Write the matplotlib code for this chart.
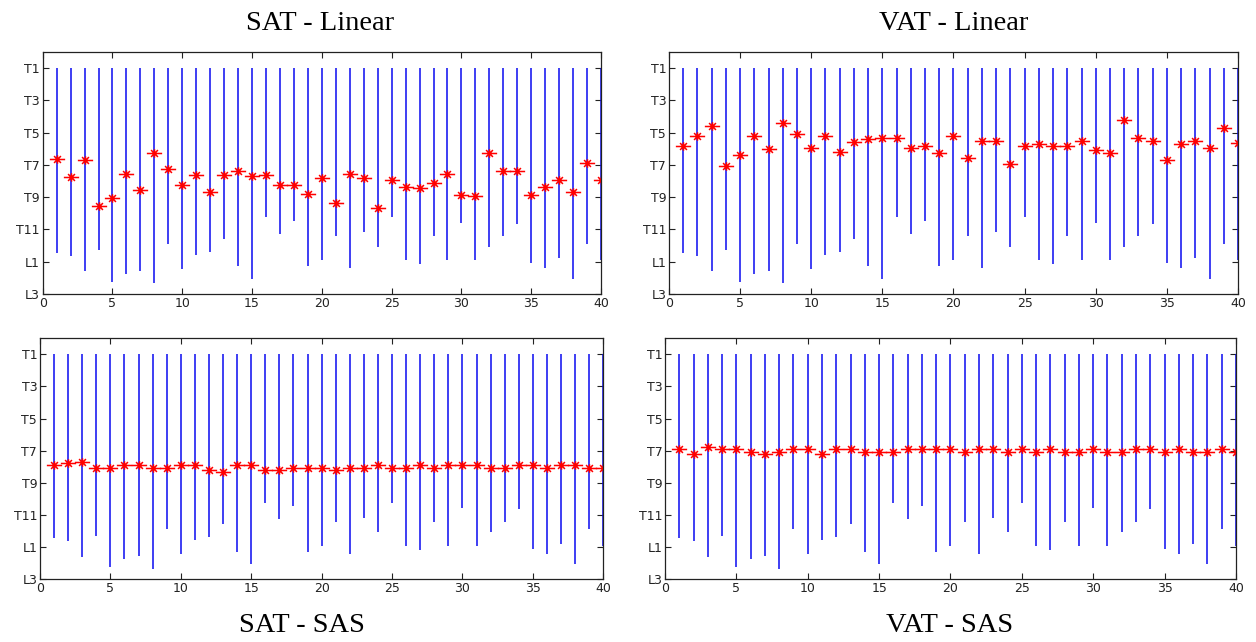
import numpy as np
from matplotlib import pyplot as plt
from matplotlib.path import Path

# level scale: T1..T12 -> 1..12, L1 -> 13, L2 -> 14, L3 -> 15
subjects = np.arange(1, 41)
level_ticks = [1, 3, 5, 7, 9, 11, 13, 15]
level_labels = ['T1', 'T3', 'T5', 'T7', 'T9', 'T11', 'L1', 'L3']

# lower end of each subject's scanned range (the upper end is always T1)
range_end = [12.45, 12.65, 13.6, 12.28, 14.25, 13.75, 13.58, 14.33, 11.88, 13.45,
             12.56, 12.37, 11.56, 13.28, 14.05, 10.25, 11.26, 10.47, 13.28, 12.9,
             11.43, 13.4, 11.18, 12.08, 10.25, 12.9, 13.15, 11.43, 12.9, 10.57,
             12.9, 12.08, 11.43, 10.65, 13.09, 13.4, 12.78, 14.06, 11.88, 12.9]

sat_linear = [6.62, 7.73, 6.72, 9.54, 9.03, 7.57, 8.58, 6.27, 7.24, 8.23,
              7.63, 8.66, 7.63, 7.36, 7.71, 7.63, 8.23, 8.23, 8.78, 7.81,
              9.36, 7.57, 7.81, 9.67, 7.94, 8.35, 8.45, 8.14, 7.57, 8.84,
              8.93, 6.27, 7.36, 7.36, 8.84, 8.35, 7.92, 8.66, 6.85, 7.92]

vat_linear = [5.85, 5.23, 4.59, 7.04, 6.40, 5.23, 6.03, 4.40, 5.08, 5.93,
              5.23, 6.22, 5.58, 5.41, 5.35, 5.35, 5.93, 5.85, 6.27, 5.23,
              6.55, 5.51, 5.51, 6.92, 5.85, 5.72, 5.85, 5.85, 5.51, 6.09,
              6.24, 4.21, 5.35, 5.51, 6.71, 5.72, 5.51, 5.93, 4.71, 5.62]

sat_sas = [7.90, 7.77, 7.73, 8.08, 8.08, 7.92, 7.92, 8.08, 8.08, 7.92,
           7.92, 8.23, 8.31, 7.92, 7.92, 8.23, 8.23, 8.08, 8.08, 8.08,
           8.23, 8.08, 8.08, 7.90, 8.08, 8.08, 7.90, 8.08, 7.92, 7.92,
           7.92, 8.08, 8.08, 7.92, 7.92, 8.08, 7.92, 7.92, 8.08, 8.08]

vat_sas = [6.90, 7.23, 6.78, 6.90, 6.90, 7.08, 7.23, 7.08, 6.90, 6.90,
           7.23, 6.90, 6.90, 7.08, 7.08, 7.08, 6.90, 6.90, 6.90, 6.90,
           7.10, 6.90, 6.90, 7.10, 6.90, 7.10, 6.90, 7.10, 7.10, 6.90,
           7.10, 7.10, 6.90, 6.90, 7.10, 6.90, 7.10, 7.10, 6.90, 7.10]

# title, data, axes rect, title position
panels = [
    ('SAT - Linear', sat_linear, [0.034, 0.542, 0.4445, 0.377], (0.255, 0.963)),
    ('VAT - Linear', vat_linear, [0.5326, 0.542, 0.4531, 0.377], (0.759, 0.963)),
    ('SAT - SAS', sat_sas, [0.0318, 0.0977, 0.4485, 0.3756], (0.240, 0.026)),
    ('VAT - SAS', vat_sas, [0.5295, 0.0977, 0.4545, 0.3756], (0.756, 0.026)),
]

# flat asterisk, a bit wider than tall like the old matlab '*'
star = Path([(-1, 0), (1, 0), (-0.45, -0.45), (0.45, 0.45),
             (-0.45, 0.45), (0.45, -0.45), (0, -0.55), (0, 0.55)],
            [Path.MOVETO, Path.LINETO] * 4)

fig = plt.figure(figsize=(12.56, 6.42), dpi=100)

for title, centre, rect, tpos in panels:
    ax = fig.add_axes(rect)
    ax.vlines(subjects, 1, range_end, colors='#0a0af0', linewidth=1.1)
    ax.plot(subjects, centre, linestyle='none', marker=star,
            markersize=11, markeredgewidth=1.1, color='red')
    ax.set_xlim(0, 40)
    ax.set_ylim(15, 0)
    ax.set_yticks(level_ticks)
    ax.set_yticklabels(level_labels)
    ax.set_xticks(range(0, 41, 5))
    ax.tick_params(direction='in', length=4, top=True, right=True,
                   labelsize=9, pad=2, colors='#222222')
    for s in ax.spines.values():
        s.set_color('#222222')
        s.set_linewidth(0.9)
    fig.text(tpos[0], tpos[1], title, ha='center', va='center',
             family='Liberation Serif', fontsize=20.5)

fig.savefig('out.png', dpi=100, facecolor='white')
